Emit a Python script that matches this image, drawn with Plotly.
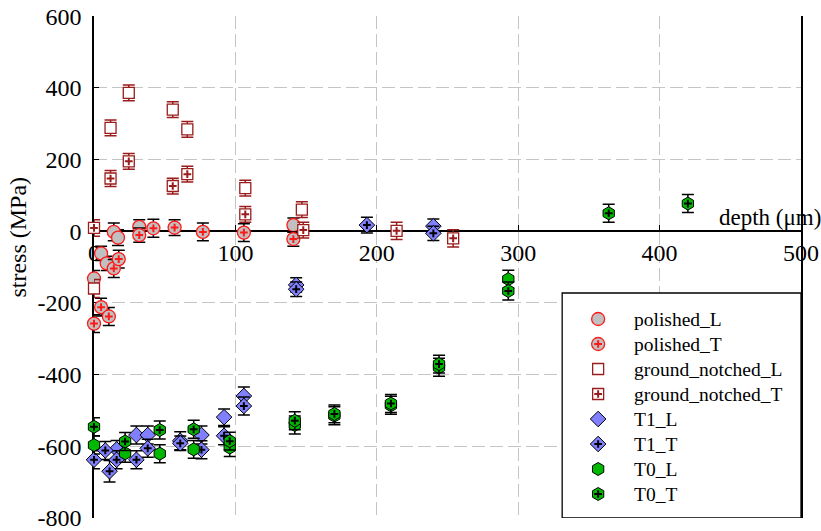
import plotly.graph_objects as go

# ---------------- data (depth in µm, stress in MPa, error in MPa) ----------------
polished_L_x = [0, 5, 9, 14, 17, 32, 141]
polished_L_y = [-132, -62, -90, -2, -18, 12, 17]
polished_L_e = [22, 20, 20, 25, 22, 20, 20]

polished_T_x = [0, 5, 10.5, 14, 17.5, 32, 42, 57, 77, 106, 141]
polished_T_y = [-258, -212, -238, -104, -78, -11, 8, 10, -2, -4, -22]
polished_T_e = [25, 25, 25, 25, 25, 20, 25, 22, 25, 25, 20]

ground_notched_L_x = [0, 11.7, 24.6, 55.7, 66, 107, 147]
ground_notched_L_y = [-160, 288, 386, 339, 284, 120, 60]
ground_notched_L_e = [25, 22, 22, 22, 22, 22, 22]

ground_notched_T_x = [0, 11.7, 24.6, 55.7, 66, 107, 148, 214, 254]
ground_notched_T_y = [9, 147, 195, 126, 159, 47, 3, 1, -20]
ground_notched_T_e = [23, 22, 22, 22, 22, 22, 22, 24, 24]

T1_L_x = [16, 30, 38, 61, 76, 92, 106, 143, 240]
T1_L_y = [-609, -569, -569, -585, -569, -519, -460, -150, 14]
T1_L_e = [25, 25, 25, 25, 25, 23, 25, 20, 20]

T1_T_x = [0, 8, 11, 16, 30, 38, 61, 76, 92, 106, 143, 193, 240]
T1_T_y = [-638, -612, -670, -638, -638, -606, -592, -610, -571, -488, -162, 17, -6]
T1_T_e = [25, 25, 30, 25, 25, 25, 20, 25, 25, 25, 20, 22, 20]

T0_L_x = [0, 22, 46.5, 70.5, 96, 142, 170, 210, 244, 293]
T0_L_y = [-597, -620, -621, -609, -604, -541, -515, -486, -380, -134]
T0_L_e = [25, 25, 25, 25, 25, 25, 25, 25, 25, 25]

T0_T_x = [0, 22, 46.5, 70.5, 96, 142, 170, 210, 244, 293, 364, 420]
T0_T_y = [-546, -587, -555, -553, -586, -529, -510, -481, -371, -167, 50, 77]
T0_T_e = [25, 25, 25, 25, 25, 25, 25, 25, 25, 25, 25, 25]

x_ticks = [0, 100, 200, 300, 400, 500]
y_ticks = [-800, -600, -400, -200, 0, 200, 400, 600]

series = [
    ("polished_L", polished_L_x, polished_L_y, polished_L_e),
    ("polished_T", polished_T_x, polished_T_y, polished_T_e),
    ("ground_notched_L", ground_notched_L_x, ground_notched_L_y, ground_notched_L_e),
    ("ground_notched_T", ground_notched_T_x, ground_notched_T_y, ground_notched_T_e),
    ("T1_L", T1_L_x, T1_L_y, T1_L_e),
    ("T1_T", T1_T_x, T1_T_y, T1_T_e),
    ("T0_L", T0_L_x, T0_L_y, T0_L_e),
    ("T0_T", T0_T_x, T0_T_y, T0_T_e),
]

# ---------------- styles ----------------
RED = "#ff1a1a"
GREY = "#c0c0c0"
DARKRED = "#9a1c1c"
BLUE = "#8080ff"
GREEN = "#00b800"
FONT = "Liberation Serif"

style = {
    "polished":       dict(symbol="circle",  size=13, fill=GREY,    line=RED,     lw=1.3, err="black", cross=RED),
    "ground_notched": dict(symbol="square",  size=11, fill="white", line=DARKRED, lw=1.3, err=DARKRED, cross=DARKRED),
    "T1":             dict(symbol="diamond", size=12, fill=BLUE,    line="black", lw=1.0, err="black", cross="black"),
    "T0":             dict(symbol="hexagon", size=13, fill=GREEN,   line="black", lw=1.0, err="black", cross="black"),
}

fig = go.Figure()

for name, xs, ys, es in series:
    key = name.rsplit("_", 1)[0]
    st = style[key]
    fig.add_trace(go.Scatter(
        x=xs, y=ys, mode="markers", name=name, showlegend=False, cliponaxis=False,
        marker=dict(symbol=st["symbol"], size=st["size"], color=st["fill"],
                    line=dict(color=st["line"], width=st["lw"])),
        error_y=dict(type="data", array=es, visible=True, color=st["err"],
                     thickness=1.5, width=6),
    ))
    if name.endswith("_T"):
        fig.add_trace(go.Scatter(
            x=xs, y=ys, mode="markers", showlegend=False, cliponaxis=False, hoverinfo="skip",
            marker=dict(symbol="cross-thin", size=5.5, color=st["cross"],
                        line=dict(color=st["cross"], width=2)),
        ))

# ---------------- manual legend (overlay axes in 0..1 units) ----------------
def px2x(px):
    return (px - 93.5) / 707.5

def py2y(py):
    return (518 - py) / 502

bx0, bx1, by0, by1 = px2x(562), 1.0, 0.0, py2y(293)
fig.add_trace(go.Scatter(
    x=[bx0, bx1, bx1, bx0, bx0], y=[by0, by0, by1, by1, by0], xaxis="x2", yaxis="y2",
    mode="lines", fill="toself", fillcolor="white", line=dict(color="black", width=1.3),
    showlegend=False, hoverinfo="skip", cliponaxis=False,
))
for i, (name, xs, ys, es) in enumerate(series):
    key = name.rsplit("_", 1)[0]
    st = style[key]
    ly = py2y(319 + 25 * i)
    lx = px2x(598)
    fig.add_trace(go.Scatter(
        x=[lx], y=[ly], xaxis="x2", yaxis="y2", mode="markers", showlegend=False,
        hoverinfo="skip", cliponaxis=False,
        marker=dict(symbol=st["symbol"], size=st["size"], color=st["fill"],
                    line=dict(color=st["line"], width=st["lw"])),
    ))
    if name.endswith("_T"):
        fig.add_trace(go.Scatter(
            x=[lx], y=[ly], xaxis="x2", yaxis="y2", mode="markers", showlegend=False,
            hoverinfo="skip", cliponaxis=False,
            marker=dict(symbol="cross-thin", size=5.5, color=st["cross"],
                        line=dict(color=st["cross"], width=2)),
        ))
    fig.add_annotation(x=px2x(632), y=ly, xref="x2", yref="y2", text=name, showarrow=False,
                       xanchor="left", yanchor="middle",
                       font=dict(family=FONT, size=19.5, color="black"))

# ---------------- axis annotations ----------------
fig.add_annotation(x=440.5, y=38, xref="x", yref="y", text="depth (\u03bcm)", showarrow=False,
                   xanchor="left", yanchor="middle", font=dict(family=FONT, size=23, color="black"))
fig.add_annotation(x=(17 - 93.5) / 707.5, y=(518 - 237) / 502, xref="paper", yref="paper",
                   text="stress (MPa)", showarrow=False, textangle=-90,
                   xanchor="center", yanchor="middle",
                   font=dict(family=FONT, size=24, color="black"))

grid = dict(showgrid=True, gridcolor="#c4c4c4", gridwidth=1.3, griddash="13px,5px")

fig.update_layout(
    width=821, height=531,
    margin=dict(l=93.5, r=20, t=16, b=13, autoexpand=False),
    paper_bgcolor="white", plot_bgcolor="white",
    font=dict(family=FONT, size=24, color="black"),
    showlegend=False,
    xaxis=dict(range=[0, 500], tickvals=x_ticks, ticktext=[str(v) for v in x_ticks],
               anchor="free", position=800.5 / 1401, showline=True, linecolor="black", linewidth=1.5,
               ticks="inside", ticklen=5, tickcolor="black", zeroline=False, automargin=False,
               ticklabeloverflow="allow",
               tickfont=dict(family=FONT, size=24), layer="below traces", **grid),
    yaxis=dict(range=[-800.5, 600.5], tickvals=y_ticks, ticktext=[str(v) for v in y_ticks],
               showline=True, linecolor="black", linewidth=1.5, mirror=True,
               ticks="inside", ticklen=5, tickcolor="black", zeroline=False, automargin=False,
               ticklabeloverflow="allow",
               tickfont=dict(family=FONT, size=24), ticklabelstandoff=6,
               layer="below traces", **grid),
    xaxis2=dict(overlaying="x", range=[0, 1], anchor="y2", visible=False, fixedrange=True),
    yaxis2=dict(overlaying="y", range=[0, 1], anchor="x2", visible=False, fixedrange=True),
)

fig.write_html("out.html")
